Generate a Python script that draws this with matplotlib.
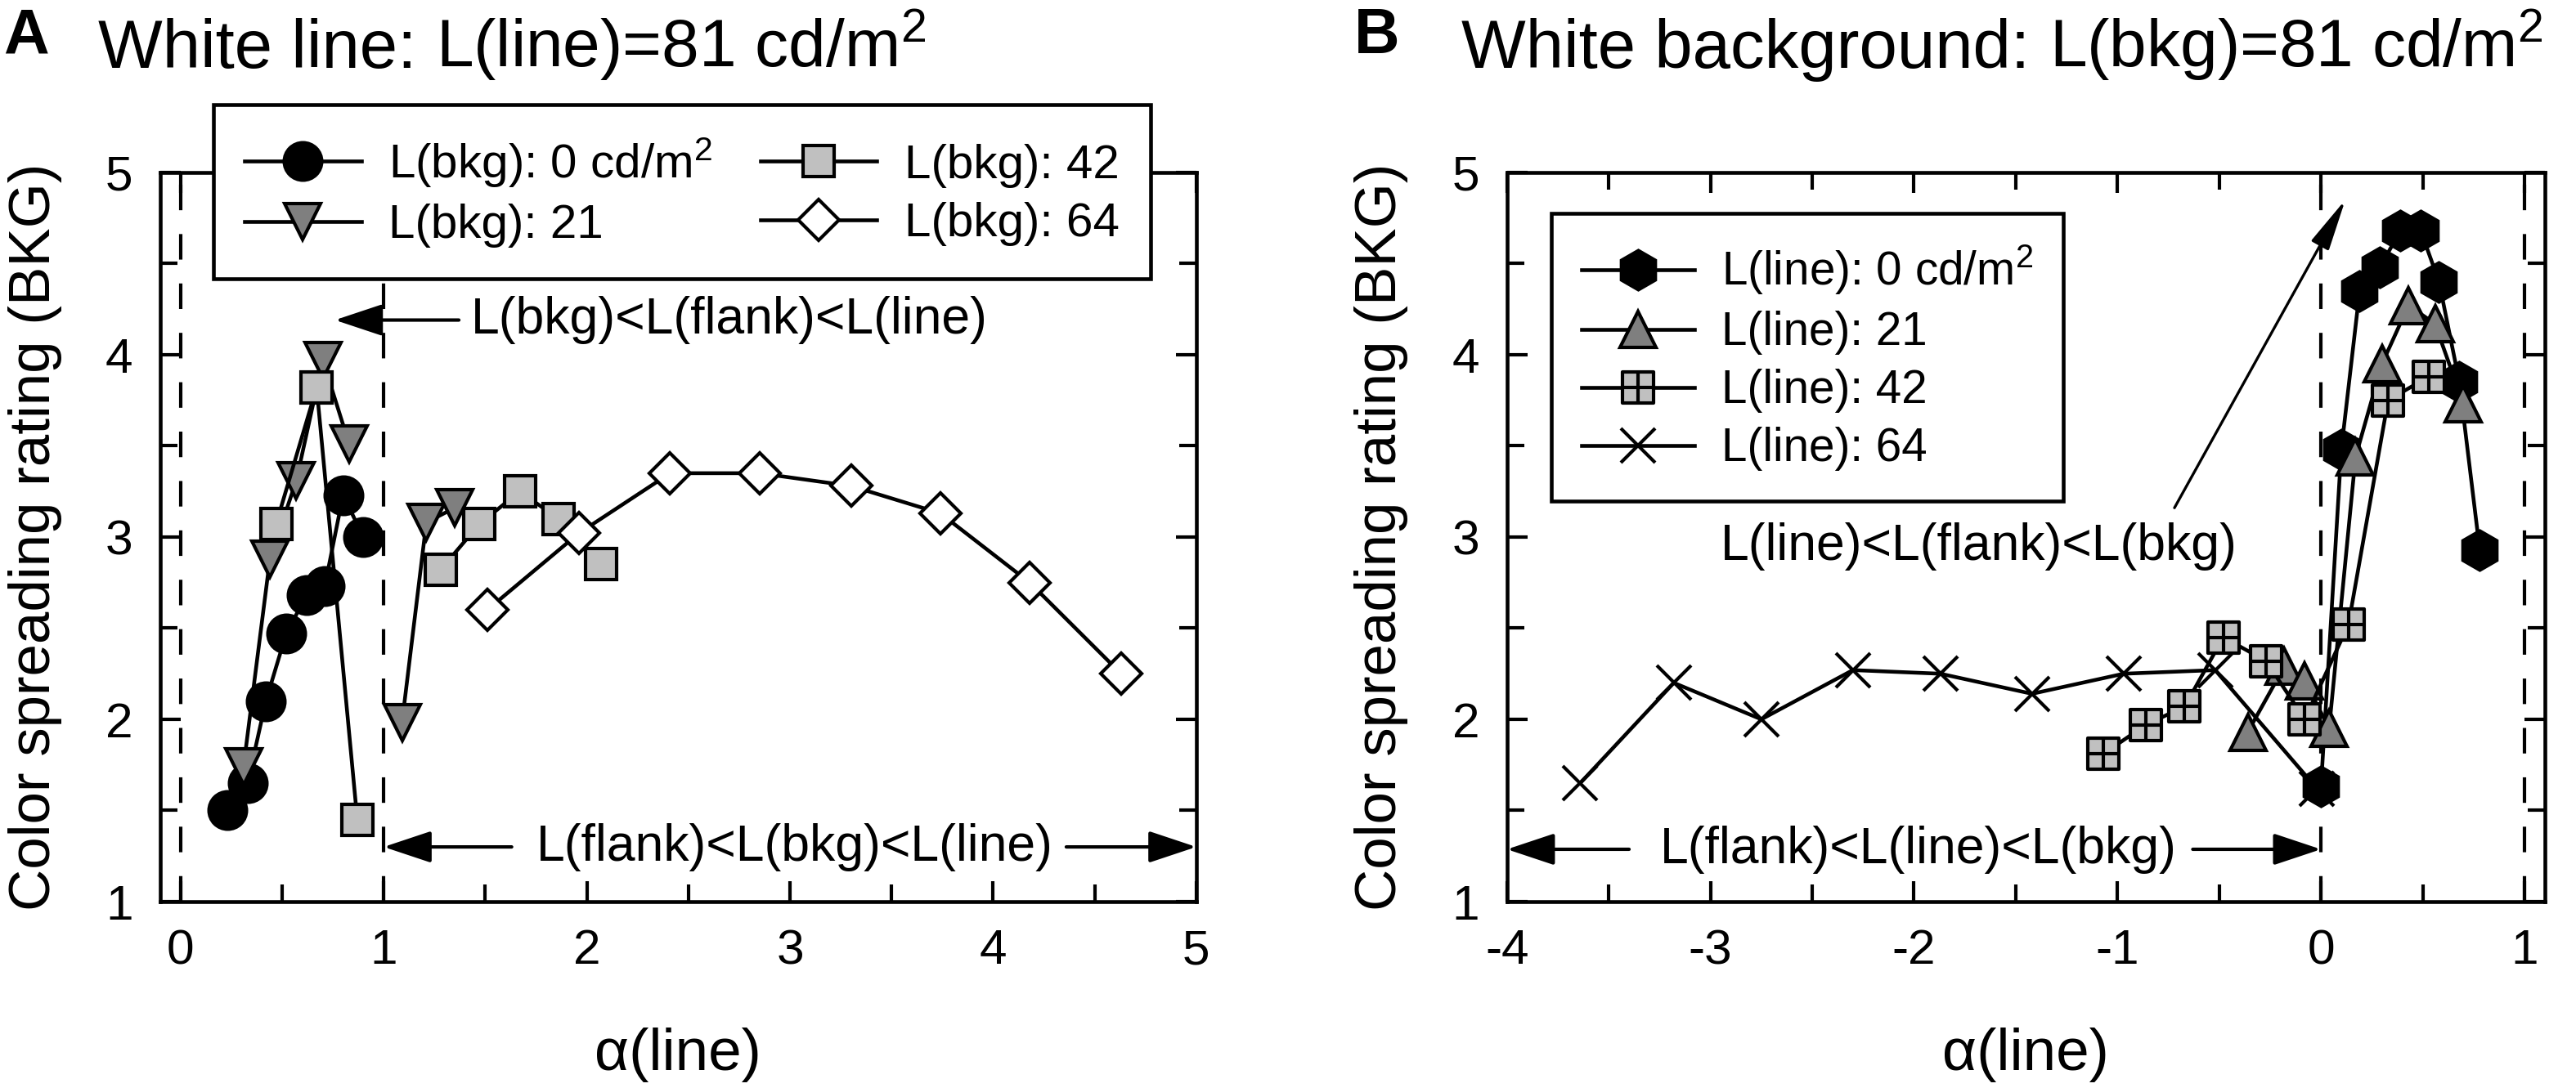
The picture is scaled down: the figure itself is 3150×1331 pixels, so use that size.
import numpy as np
import matplotlib
matplotlib.use("Agg")
import matplotlib.pyplot as plt
from matplotlib.path import Path
from matplotlib.ticker import MultipleLocator

plt.rcParams["font.family"] = ["Liberation Sans", "DejaVu Sans"]
plt.rcParams["mathtext.fontset"] = "custom"
plt.rcParams["mathtext.rm"] = "Liberation Sans"
plt.rcParams["mathtext.it"] = "Liberation Sans:italic"
plt.rcParams["axes.unicode_minus"] = False

# ── Data: panel A (white line, background luminance varies) ──────────────────
A_BKG0_X  = [0.23, 0.33, 0.42, 0.52, 0.62, 0.71, 0.80, 0.90]
A_BKG0_Y  = [1.50, 1.65, 2.10, 2.47, 2.68, 2.73, 3.23, 3.00]

A_BKG21_X = [0.31, 0.44, 0.57, 0.70, 0.83, np.nan, 1.09, 1.21, 1.35]
A_BKG21_Y = [1.74, 2.88, 3.31, 3.97, 3.51, np.nan, 1.98, 3.08, 3.16]

A_BKG42_X = [0.47, 0.67, 0.87, np.nan, 1.28, 1.47, 1.67, 1.86, 2.07]
A_BKG42_Y = [3.07, 3.82, 1.45, np.nan, 2.82, 3.07, 3.25, 3.10, 2.85]

A_BKG64_X = [1.51, 1.96, 2.41, 2.85, 3.30, 3.74, 4.18, 4.63]
A_BKG64_Y = [2.60, 3.02, 3.35, 3.35, 3.28, 3.13, 2.75, 2.25]

A_LABELS = ["L(bkg): 0 cd/m$^2$", "L(bkg): 21", "L(bkg): 42", "L(bkg): 64"]

# ── Data: panel B (white background, line luminance varies) ──────────────────
B_LINE0_X  = [0.00, 0.10, 0.19, 0.29, 0.39, 0.49, 0.58, 0.68, 0.78]
B_LINE0_Y  = [1.63, 3.48, 4.35, 4.48, 4.68, 4.68, 4.40, 3.85, 2.93]

B_LINE21_X = [-0.36, -0.18, -0.08, 0.04, 0.17, 0.30, 0.43, 0.56, 0.70]
B_LINE21_Y = [1.93, 2.29, 2.21, 1.95, 3.44, 3.95, 4.27, 4.17, 3.73]

B_LINE42_X = [-1.07, -0.86, -0.67, -0.48, -0.27, -0.08, 0.135, 0.33, 0.53]
B_LINE42_Y = [1.81, 1.97, 2.07, 2.45, 2.32, 2.00, 2.52, 3.75, 3.88]

B_LINE64_X = [-3.64, -3.18, -2.75, -2.30, -1.87, -1.42, -0.97, -0.52, -0.02]
B_LINE64_Y = [1.65, 2.20, 2.00, 2.27, 2.25, 2.14, 2.25, 2.27, 1.62]

B_LABELS = ["L(line): 0 cd/m$^2$", "L(line): 21", "L(line): 42", "L(line): 64"]

# square with a cross inside (the "42" marker in panel B)
GRID_SQUARE = Path(
    [(-1, -1), (1, -1), (1, 1), (-1, 1), (-1, -1),
     (0, -1), (0, 1), (-1, 0), (1, 0)],
    [Path.MOVETO, Path.LINETO, Path.LINETO, Path.LINETO, Path.CLOSEPOLY,
     Path.MOVETO, Path.LINETO, Path.MOVETO, Path.LINETO],
)

DARK = "#7f7f7f"
LIGHT = "#c0c0c0"
FS = 14.5
DASH = (0, (7.5, 7))


def style_axes(ax, xlim):
    ax.set_xlim(*xlim)
    ax.set_ylim(1, 5)
    ax.xaxis.set_major_locator(MultipleLocator(1))
    ax.xaxis.set_minor_locator(MultipleLocator(0.5))
    ax.yaxis.set_major_locator(MultipleLocator(1))
    ax.yaxis.set_minor_locator(MultipleLocator(0.5))
    ax.tick_params(which="both", direction="in", top=True, right=True,
                   width=1, labelsize=FS, pad=8)
    ax.tick_params(which="major", length=6)
    ax.tick_params(which="minor", length=5)
    for sp in ax.spines.values():
        sp.set_linewidth(1.1)
    ax.set_ylabel("Color spreading rating (BKG)", fontsize=17)
    ax.yaxis.set_label_coords(-0.095, 0.5)
    ax.set_xlabel("\u03b1(line)", fontsize=17.5)
    ax.xaxis.set_label_coords(0.5, -0.172)


def arrow(ax, tail, tip, lw=1.0, hl=1.2, hw=0.4):
    ax.annotate("", xy=tip, xytext=tail,
                arrowprops=dict(arrowstyle=f"-|>,head_length={hl},head_width={hw}",
                                lw=lw, color="k", shrinkA=0, shrinkB=0))


def legend(ax, handles, labels, anchor, ncol=1, fs=14):
    leg = ax.legend(handles, labels, ncol=ncol, loc="upper left",
                    bbox_to_anchor=anchor, borderaxespad=0, fontsize=fs,
                    frameon=True, fancybox=False, framealpha=1, edgecolor="k",
                    handlelength=2.45, handletextpad=0.57, columnspacing=1.0,
                    borderpad=0.65, labelspacing=0.3)
    leg.get_frame().set_linewidth(1.1)
    return leg


def title(fig, letter, x_letter, x_text, head, rest):
    fig.text(x_letter, 0.951, letter, fontsize=18.5, fontweight="bold", va="baseline")
    t = fig.text(x_text, 0.938, head, fontsize=20, va="baseline")
    r = fig.canvas.get_renderer()
    x1 = fig.transFigure.inverted().transform(t.get_window_extent(r).p1)[0]
    fig.text(x1 + 0.0075, 0.938, rest, fontsize=19.7, va="baseline")


fig = plt.figure(figsize=(10.5, 4.437), dpi=300)
axA = fig.add_axes([0.0622, 0.1713, 0.4022, 0.6702])
axB = fig.add_axes([0.585, 0.1713, 0.4029, 0.6702])

# ── Panel A ───────────────────────────────────────────────────────────────────
style_axes(axA, (-0.1, 5.0))
for xv in (0, 1):
    axA.axvline(xv, color="k", lw=1, ls=DASH, zorder=1)

common = dict(color="k", lw=1.1, mec="k", mew=1.0, zorder=3)
hA = [
    axA.plot(A_BKG0_X, A_BKG0_Y, marker="o", ms=11, mfc="k", **common)[0],
    axA.plot(A_BKG21_X, A_BKG21_Y, marker="v", ms=10.5, mfc=DARK, **common)[0],
    axA.plot(A_BKG42_X, A_BKG42_Y, marker="s", ms=9, mfc=LIGHT, **common)[0],
    axA.plot(A_BKG64_X, A_BKG64_Y, marker="D", ms=8.5, mfc="white", **common)[0],
]
legend(axA, hA, A_LABELS, (0.0513, 1.093), ncol=2)

arrow(axA, (1.37, 4.19), (0.76, 4.19))
axA.text(1.43, 4.19, "L(bkg)<L(flank)<L(line)", fontsize=15, va="center", ha="left")
arrow(axA, (1.63, 1.30), (1.0, 1.30))
arrow(axA, (4.36, 1.30), (5.0, 1.30))
axA.text(1.75, 1.30, "L(flank)<L(bkg)<L(line)", fontsize=15, va="center", ha="left")

# ── Panel B ───────────────────────────────────────────────────────────────────
style_axes(axB, (-4.0, 1.1))
for xv in (0, 1):
    axB.axvline(xv, color="k", lw=1, ls=DASH, zorder=1)

h64 = axB.plot(B_LINE64_X, B_LINE64_Y, marker="x", ms=10, mfc="k", **common)[0]
h0 = axB.plot(B_LINE0_X, B_LINE0_Y, marker="h", ms=11.5, mfc="k", **common)[0]
h21 = axB.plot(B_LINE21_X, B_LINE21_Y, marker="^", ms=10.5, mfc=DARK, **common)[0]
h42 = axB.plot(B_LINE42_X, B_LINE42_Y, marker=GRID_SQUARE, ms=9, mfc=LIGHT, **common)[0]
legend(axB, [h0, h21, h42, h64], B_LABELS, (0.0426, 0.944), fs=13.6)

arrow(axB, (-0.72, 3.16), (0.12, 4.85), lw=0.8, hl=1.3, hw=0.25)
axB.text(-1.68, 2.95, "L(line)<L(flank)<L(bkg)", fontsize=15, va="center", ha="center")
arrow(axB, (-3.40, 1.287), (-4.0, 1.287))
arrow(axB, (-0.63, 1.287), (0.0, 1.287))
axB.text(-1.98, 1.287, "L(flank)<L(line)<L(bkg)", fontsize=15, va="center", ha="center")

# ── Panel titles ─────────────────────────────────────────────────────────────
title(fig, "A", 0.0013, 0.0381, "White line:", "L(line)=81 cd/m$^2$")
title(fig, "B", 0.5257, 0.5673, "White background:", "L(bkg)=81 cd/m$^2$")

fig.savefig("out.png", dpi=300)
